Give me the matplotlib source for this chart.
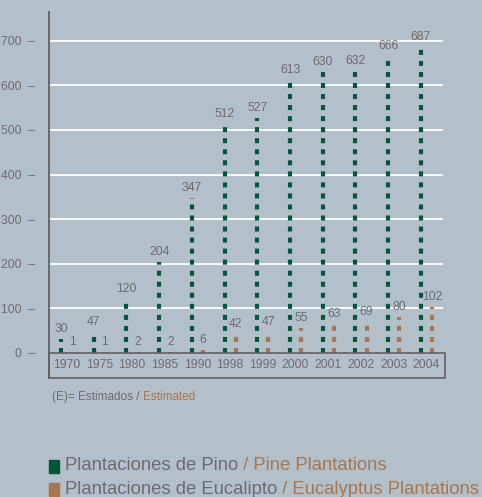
import matplotlib.pyplot as plt
from matplotlib.patches import Rectangle

years = ['1970', '1975', '1980', '1985', '1990', '1998', '1999',
         '2000', '2001', '2002', '2003', '2004']
pino = [30, 47, 120, 204, 347, 512, 527, 613, 630, 632, 666, 687]
eucalipto = [1, 1, 2, 2, 6, 42, 47, 55, 63, 69, 80, 102]
yticks = [0, 100, 200, 300, 400, 500, 600, 700]

BG = '#b4c0c9'
GREEN = '#00573a'
BROWN = '#a8764f'
GREY = '#6b6c70'
font = ['Liberation Sans', 'DejaVu Sans']
NUM = 8.8

fig = plt.figure(figsize=(4.82, 4.97), dpi=100, facecolor=BG)
ax = fig.add_axes([49 / 482, 119 / 497, 396 / 482, 366 / 497])
ax.set_facecolor(BG)

xs = list(range(len(years)))
off = 0.34
ax.set_xlim(-0.37, 11.74)
ax.set_ylim(-57, 765)

# white grid lines
for t in yticks[1:]:
    ax.plot([-0.37, 11.65], [t, t], color='white', lw=1.3, zorder=1)

# dotted columns, dashes start from the baseline
dash = (0, (1.2, 1.45))
ax.vlines(xs, 0, pino, colors=GREEN, linewidth=3.0, linestyles=[dash],
          capstyle='butt', zorder=3)
ax.vlines([x + off for x in xs], 0, eucalipto, colors=BROWN, linewidth=3.0,
          linestyles=[dash], capstyle='butt', zorder=3)

for x, v in zip(xs, pino):
    ax.annotate(str(v), (x, v), xytext=(0, 3), textcoords='offset points',
                ha='center', va='bottom', fontsize=NUM, color=GREY, family=font)
for x, v in zip(xs, eucalipto):
    ax.annotate(str(v), (x + off, v), xytext=(0, 3), textcoords='offset points',
                ha='center', va='bottom', fontsize=NUM, color=GREY, family=font)

# year box under the axis
ax.add_patch(Rectangle((-0.37, -57), 12.11, 57, fill=False, edgecolor='#606166',
                       lw=1.2, zorder=4, clip_on=False))
for x, y in zip(xs, years):
    ax.text(x + off / 2, -28, y, ha='center', va='center', fontsize=NUM,
            color=GREY, family=font)

ax.set_yticks(yticks)
ax.set_yticklabels([f'{t}  \u2013' for t in yticks], family=font, fontsize=NUM,
                   color=GREY)
ax.tick_params(axis='y', length=0, pad=10)
ax.set_xticks([])
for s in ['top', 'right', 'bottom']:
    ax.spines[s].set_visible(False)
ax.spines['left'].set_color('#606166')
ax.spines['left'].set_linewidth(1.3)

# footnote
t1 = fig.text(52 / 482, 1 - 397 / 497, '(E)= Estimados / ', fontsize=8.5,
              color=GREY, family=font, va='center')
fig.canvas.draw()
bb = t1.get_window_extent()
fig.text(bb.x1 / 482, 1 - 397 / 497, 'Estimated', fontsize=8.5, color=BROWN,
         family=font, va='center')

# legend
legend = [(GREEN, 'Plantaciones de Pino', ' / Pine Plantations', 466),
          (BROWN, 'Plantaciones de Eucalipto', ' / Eucalyptus Plantations', 489)]
for col, es, en, y in legend:
    fig.patches.append(Rectangle((49 / 482, 1 - (y + 7) / 497), 10 / 482, 13 / 497,
                                 transform=fig.transFigure, color=col))
    ta = fig.text(65 / 482, 1 - y / 497, es, fontsize=13.3, color=GREY,
                  family=font, va='center')
    fig.canvas.draw()
    bb = ta.get_window_extent()
    fig.text(bb.x1 / 482, 1 - y / 497, en, fontsize=13.3, color=BROWN,
             family=font, va='center')

fig.savefig('out.png', dpi=100, facecolor=BG)
